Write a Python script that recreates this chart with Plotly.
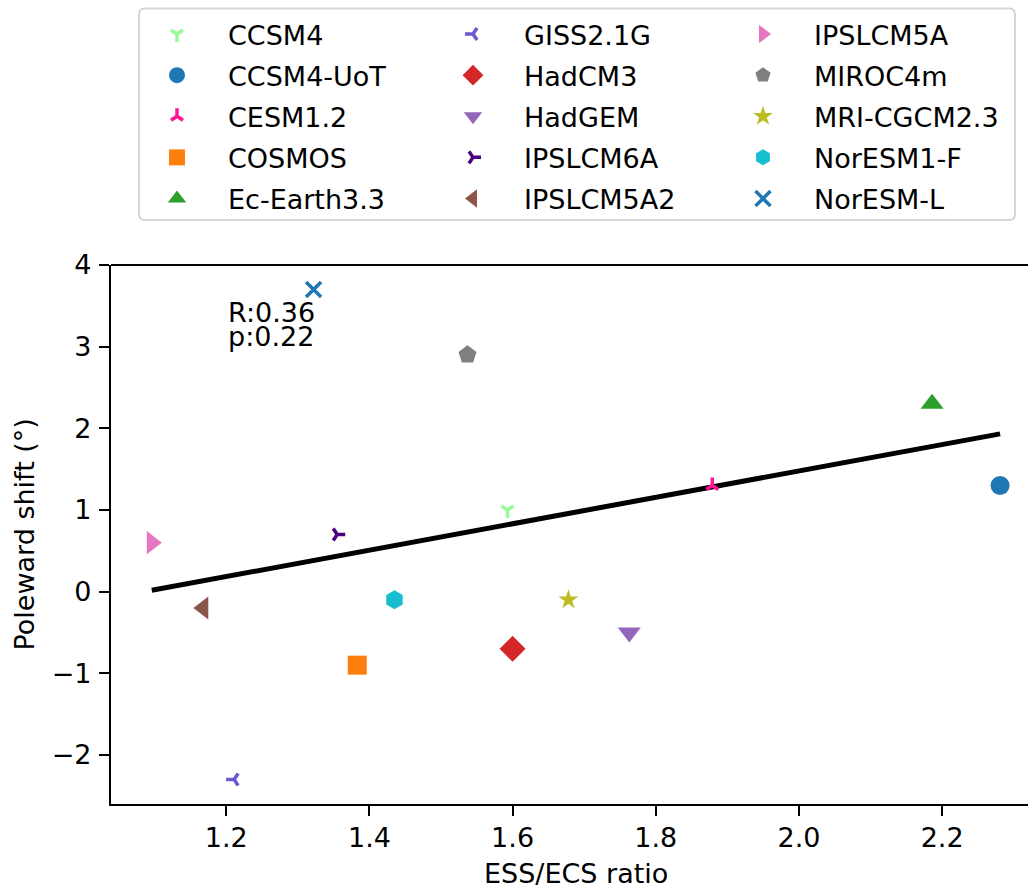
import plotly.graph_objects as go

# ---- data -------------------------------------------------------------
models = [
    "CCSM4", "CCSM4-UoT", "CESM1.2", "COSMOS", "Ec-Earth3.3",
    "GISS2.1G", "HadCM3", "HadGEM", "IPSLCM6A", "IPSLCM5A2",
    "IPSLCM5A", "MIROC4m", "MRI-CGCM2.3", "NorESM1-F", "NorESM-L",
]
ess_ecs_ratio = [
    1.593, 2.281, 1.879, 1.383, 2.186,
    1.211, 1.600, 1.763, 1.355, 1.168,
    1.096, 1.537, 1.678, 1.435, 1.322,
]
poleward_shift = [
    1.0, 1.3, 1.3, -0.9, 2.3,
    -2.3, -0.7, -0.5, 0.7, -0.2,
    0.6, 2.9, -0.1, -0.1, 3.7,
]

# linear trend drawn across the range of the ratios
trend_slope = 1.616
trend_intercept = -1.754
stats_lines = ["R:0.36", "p:0.22"]

x_tick_values = [1.2, 1.4, 1.6, 1.8, 2.0, 2.2]
x_tick_labels = ["1.2", "1.4", "1.6", "1.8", "2.0", "2.2"]
y_tick_values = [-2, -1, 0, 1, 2, 3, 4]

# ---- styles -----------------------------------------------------------
FONT = "DejaVu Sans"
FS = 27
W, H = 1028, 888
L, R, T, B = 111, 0, 265, 84
PW, PH = W - L - R, H - T - B

styles = {
    "CCSM4":       dict(symbol="y-down",       color="#98fb98", size=10, line=3.5),
    "CCSM4-UoT":   dict(symbol="circle",       color="#1f77b4", size=19),
    "CESM1.2":     dict(symbol="y-up",         color="#ff1493", size=10, line=3.5),
    "COSMOS":      dict(symbol="square",       color="#ff7f0e", size=19),
    "Ec-Earth3.3": dict(symbol="triangle-up",  color="#2ca02c", size=20),
    "GISS2.1G":    dict(symbol="y-left",       color="#6a5acd", size=10, line=3.5),
    "HadCM3":      dict(symbol="diamond",      color="#d62728", size=20),
    "HadGEM":      dict(symbol="triangle-down", color="#9467bd", size=20),
    "IPSLCM6A":    dict(symbol="y-right",      color="#4b0082", size=10, line=3.5),
    "IPSLCM5A2":   dict(symbol="triangle-left", color="#8c564b", size=20),
    "IPSLCM5A":    dict(symbol="triangle-right", color="#e377c2", size=20),
    "MIROC4m":     dict(symbol="pentagon",     color="#7f7f7f", size=19),
    "MRI-CGCM2.3": dict(symbol="star",         color="#bcbd22", size=15),
    "NorESM1-F":   dict(symbol="hexagon",      color="#17becf", size=19),
    "NorESM-L":    dict(symbol="x-thin",       color="#1f77b4", size=15, line=3.5),
}

legend_ids = ["legend", "legend2", "legend3"]

fig = go.Figure()

# trend line
x_lo, x_hi = min(ess_ecs_ratio), max(ess_ecs_ratio)
fig.add_trace(go.Scatter(
    x=[x_lo, x_hi],
    y=[trend_intercept + trend_slope * x_lo, trend_intercept + trend_slope * x_hi],
    mode="lines", line=dict(color="black", width=5),
    showlegend=False, hoverinfo="skip",
))

# one trace per model, legend split into three columns of five
for i, (name, xv, yv) in enumerate(zip(models, ess_ecs_ratio, poleward_shift)):
    st = styles[name]
    if "line" in st:
        marker = dict(symbol=st["symbol"], size=st["size"],
                      color=st["color"],
                      line=dict(color=st["color"], width=st["line"]))
    else:
        marker = dict(symbol=st["symbol"], size=st["size"],
                      color=st["color"], line=dict(width=0))
    fig.add_trace(go.Scatter(
        x=[xv], y=[yv], mode="markers", name=name, marker=marker,
        legend=legend_ids[i // 5], legendgroup=name,
    ))

def px_x(p):
    return (p - L) / PW

def px_y(p):
    return (H - B - p) / PH

legend_common = dict(
    font=dict(family=FONT, size=FS, color="black"),
    bgcolor="rgba(0,0,0,0)", borderwidth=0,
    itemwidth=92, tracegroupgap=3,
    xanchor="left", yanchor="top", orientation="v",
)
marker_cols = [177, 473, 763]
lay_leg = {}
for lid, mx in zip(legend_ids, marker_cols):
    lay_leg[lid] = dict(legend_common, x=px_x(mx - 51), y=px_y(10))

# legend frame with rounded corners
x0, x1 = px_x(139), px_x(1015)
y0, y1 = px_y(220), px_y(8.5)
rx, ry = 6 / PW, 6 / PH
frame = (f"M{x0+rx},{y1} L{x1-rx},{y1} Q{x1},{y1} {x1},{y1-ry} "
         f"L{x1},{y0+ry} Q{x1},{y0} {x1-rx},{y0} "
         f"L{x0+rx},{y0} Q{x0},{y0} {x0},{y0+ry} "
         f"L{x0},{y1-ry} Q{x0},{y1} {x0+rx},{y1} Z")

shapes = [
    dict(type="path", path=frame, xref="paper", yref="paper",
         line=dict(color="#d5d5d5", width=2), fillcolor="rgba(255,255,255,0.8)",
         layer="below"),
    # top spine
    dict(type="line", xref="paper", yref="paper", x0=0, x1=1, y0=1, y1=1,
         line=dict(color="black", width=2.2)),
]

annotations = [
    dict(x=1.2, y=3.42, xref="x", yref="y", text=stats_lines[0],
         showarrow=False, xanchor="left", yanchor="middle",
         font=dict(family=FONT, size=FS, color="black")),
    dict(x=1.2, y=3.12, xref="x", yref="y", text=stats_lines[1],
         showarrow=False, xanchor="left", yanchor="middle",
         font=dict(family=FONT, size=FS, color="black")),
    dict(x=px_x(575.8), y=px_y(873), xref="paper", yref="paper",
         text="ESS/ECS ratio", showarrow=False, xanchor="center", yanchor="middle",
         font=dict(family=FONT, size=FS, color="black")),
    dict(x=px_x(24), y=0.5, xref="paper", yref="paper",
         text="Poleward shift (°)", textangle=-90, showarrow=False,
         xanchor="center", yanchor="middle",
         font=dict(family=FONT, size=FS, color="black")),
]

fig.update_layout(
    width=W, height=H,
    margin=dict(l=L, r=R, t=T, b=B, pad=0),
    paper_bgcolor="white", plot_bgcolor="white",
    font=dict(family=FONT, size=FS, color="black"),
    shapes=shapes, annotations=annotations,
    **lay_leg,
)

fig.update_xaxes(
    range=[1.039, 2.320], showgrid=False, zeroline=False,
    showline=True, linecolor="black", linewidth=2.2, mirror=False,
    ticks="outside", ticklen=10, tickwidth=2.2, tickcolor="black",
    tickvals=x_tick_values, ticktext=x_tick_labels,
    tickfont=dict(family=FONT, size=FS, color="black"),
    ticklabelstandoff=-2,
)
fig.update_yaxes(
    range=[-2.6, 4.0], showgrid=False, zeroline=False,
    showline=True, linecolor="black", linewidth=2.2, mirror=False,
    ticks="outside", ticklen=10, tickwidth=2.2, tickcolor="black",
    tickvals=y_tick_values,
    tickfont=dict(family=FONT, size=FS, color="black"),
    ticklabelstandoff=2,
)

fig.write_html("out.html")
